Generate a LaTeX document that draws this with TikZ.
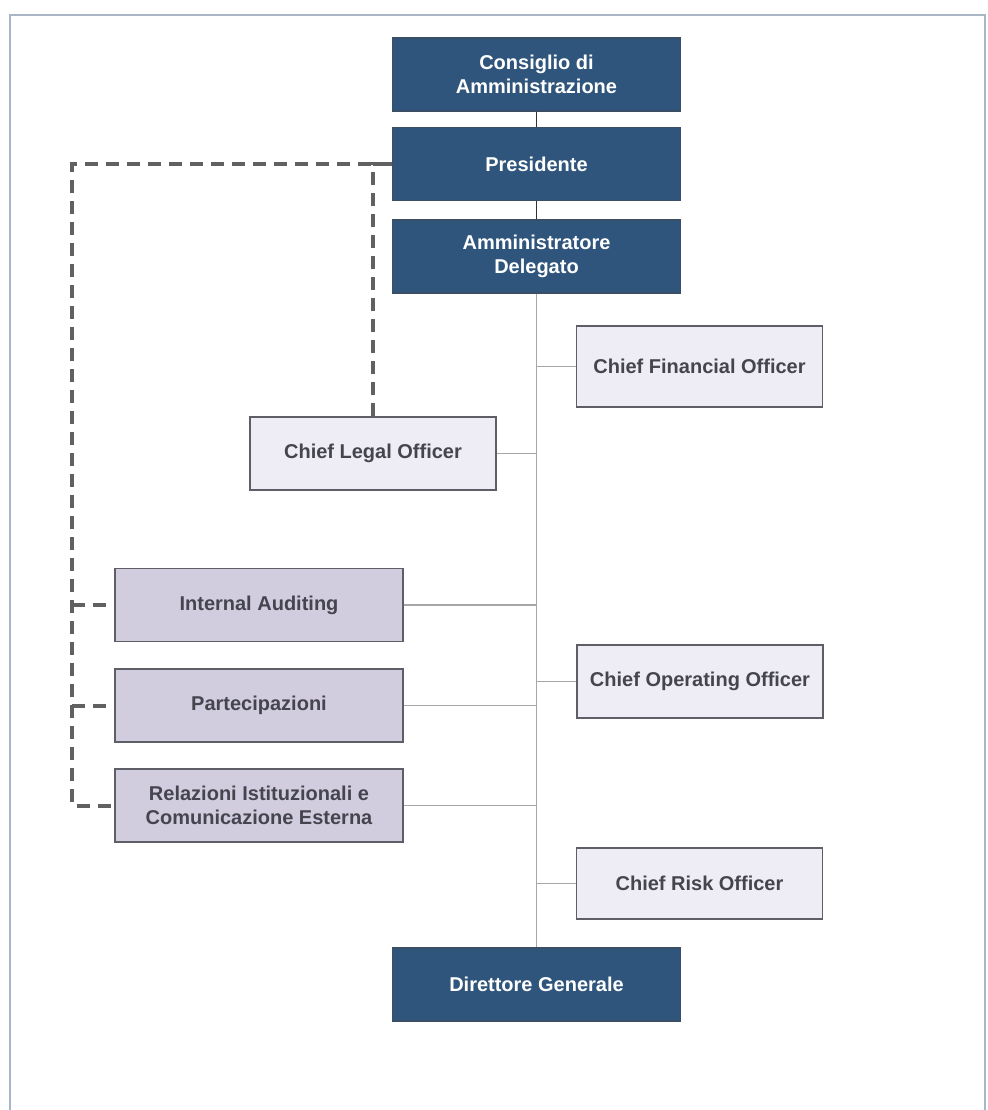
\documentclass[tikz,border=0pt]{standalone}
\usepackage{fontspec}
\setmainfont{Liberation Sans}
\definecolor{boardblue}{HTML}{30557C}
\definecolor{boardline}{HTML}{3A4E66}
\definecolor{stafffill}{HTML}{EEEDF6}
\definecolor{unitfill}{HTML}{D2CCDF}
\definecolor{boxline}{HTML}{5E5E66}
\definecolor{boxtext}{HTML}{45454F}
\definecolor{framecol}{HTML}{A9B6C6}
\begin{document}
\begin{tikzpicture}[x=1pt, y=-1pt,
	every node/.style={font=\fontsize{20}{24}\selectfont\bfseries, align=center, inner sep=2pt},
	topbox/.style={rectangle, fill=boardblue, draw=boardline, line width=1.2pt, text=white, minimum width=288pt, minimum height=73pt},
	staffbox/.style={rectangle, fill=stafffill, draw=boxline, line width=1.5pt, text=boxtext, minimum width=246pt, minimum height=73pt},
	unitbox/.style={rectangle, fill=unitfill, draw=boxline, line width=1.5pt, text=boxtext, minimum width=288pt, minimum height=73pt},
	chain/.style={draw=black!80, line width=1.5pt},
	trunk/.style={draw=black!35, line width=1.2pt},
	dashline/.style={draw=black!62, line width=4pt, dash pattern=on 13pt off 8pt}]
		\useasboundingbox (0,0) rectangle (987,1110);
		
		% Frame
		\draw[framecol, line width=2pt] (10,1110) -- (10,15) -- (985,15) -- (985,1110);
		
		% Top boxes
		\node[topbox] (cda) at (536.5,74.5) {Consiglio di\\Amministrazione};
		\node[topbox] (pres) at (536.5,164) {Presidente};
		\node[topbox] (ad) at (536.5,256.5) {Amministratore\\Delegato};
		\node[topbox] (dg) at (536.5,984.5) {Direttore Generale};
		
		% Staff boxes
		\node[staffbox, minimum height=81pt] (cfo) at (699.5,366.5) {Chief Financial Officer};
		\node[staffbox] (clo) at (373,453.5) {Chief Legal Officer};
		\node[staffbox] (coo) at (700,681.5) {Chief Operating Officer};
		\node[staffbox, minimum height=71pt] (cro) at (699.5,883.5) {Chief Risk Officer};
		
		% Units
		\node[unitbox] (ia) at (259,605) {Internal Auditing};
		\node[unitbox] (part) at (259,705.5) {Partecipazioni};
		\node[unitbox] (rel) at (259,805.5) {Relazioni Istituzionali e\\Comunicazione Esterna};
		
		% Draw chain of command
		\draw[chain] (cda) -- (pres);
		\draw[chain] (pres) -- (ad);
		\draw[trunk] (ad.south) -- (dg.north);
		\foreach \p in {cfo,coo,cro}
		\draw[trunk] (\p.west) -- (\p.west -| ad.south);
		\foreach \p in {clo,ia,part,rel}
		\draw[trunk] (\p.east) -- (\p.east -| ad.south);
		
		% Dashed reporting lines
		\coordinate (dtop) at (72,164);
		\draw[dashline] (clo.north) |- (pres.west);
		\draw[dashline] (pres.west) -- (dtop) |- (rel.west);
		\foreach \p in {ia,part}
		\draw[dashline] (dtop |- \p.west) -- (\p.west);
	\end{tikzpicture}
\end{document}
